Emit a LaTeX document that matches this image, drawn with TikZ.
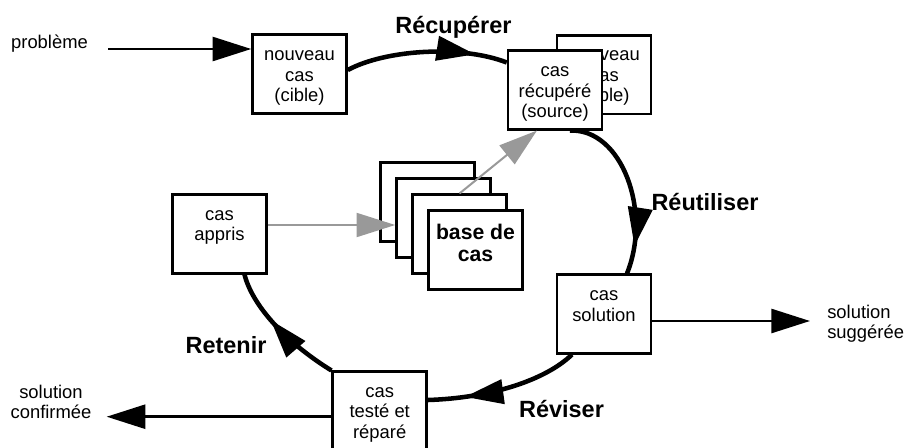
\documentclass[tikz,border=0pt]{standalone}
\usepackage{fontspec}
\setmainfont{Liberation Sans}
\usetikzlibrary{arrows.meta,decorations.markings,calc,backgrounds}
\definecolor{arrowgray}{gray}{0.6}
\tikzset{
  bigtip/.tip={Triangle[length=29pt,width=18pt]},
  box/.style={draw,fill=white,line width=1.9pt,minimum width=70.5pt,minimum height=58.9pt,inner sep=0pt},
  txt/.style={font=\fontsize{13.8}{15.3}\selectfont,align=center,inner sep=0pt,
    execute at begin node=\strut,execute at end node=\strut},
  basetxt/.style={txt,font=\fontsize{15.9}{16.3}\selectfont\bfseries},
  lbl/.style={font=\fontsize{17.6}{20}\selectfont\bfseries,inner sep=0pt,anchor=base},
  straight/.style={line width=2pt,-{bigtip}},
  grayarrow/.style={line width=1.5pt,draw=arrowgray,-{Triangle[length=29pt,width=18pt,fill=arrowgray]}},
  cyclearc/.style={line width=3.4pt,postaction={decorate},
    decoration={markings,mark=at position #1 with {\arrow{bigtip}}}}
}
\begin{document}
\begin{tikzpicture}[x=0.75pt,y=-0.75pt]
\useasboundingbox (0,0) rectangle (904,447);

% boxes of the cycle
\node[box] (ncb) at (604,74.5) {};
\node[txt] (ncbt) at (604.5,79.5) {nouveau\\cas\\(cible)};
\node[box] (rec) at (555,90) {};
\node[txt] (rect) at (555,95.5) {cas\\récupéré\\(source)};
\node[box] (nc) at (299.5,74) {};
\node[txt] (nct) at (299.5,79.5) {nouveau\\cas\\(cible)};
\node[box] (app) at (219.5,234) {};
\node[txt] (appt) at (219.5,228.7) {cas\\appris};
\node[box] (sol) at (604,314) {};
\node[txt] (solt) at (604,309.3) {cas\\solution};
\node[box] (tst) at (379.7,411) {};
\node[txt] (tstt) at (379.7,416) {cas\\testé et\\réparé};

% stacked case base
\node[box] (s1) at (427.7,202) {};
\node[box] (s2) at (443.5,218) {};
\node[box] (s3) at (459.5,234) {};
\node[box] (s4) at (475.3,250) {};
\node[basetxt] (s4t) at (475.5,246) {base de\\cas};

% the four phases of the cycle, behind the boxes
\begin{pgfonlayer}{background}
\draw[cyclearc=0.8] ($(nc.east)+(0,-4)$) .. controls +(37,-20) and +(-47,-18) .. ($(rec.north west)+(0,13)$);
\draw[cyclearc=0.84] ($(rec.south)+(15,0)$) .. controls +(52,-2) and +(25,-62) .. ($(sol.north)+(23,0)$);
\draw[cyclearc=0.76] ($(sol.south)+(-32,0)$) .. controls +(-27,26) and +(62,-2) .. ($(tst.east)+(0,-11)$);
\draw[cyclearc=0.6] (tst.north west) .. controls +(-47,-29) and +(7.5,30) .. ($(app.south)+(25,0)$);
\end{pgfonlayer}

% outer texts
\node[txt,anchor=base,execute at begin node=,execute at end node=] (prob) at (49.5,48.5) {problème};
\node[txt,anchor=west,align=left] (sug) at (827,325) {solution\\suggérée};
\node[txt] (conf) at (51,405) {solution\\confirmée};

% phase labels
\node[lbl] (l1) at (453.5,33.3) {Récupérer};
\node[lbl] (l2) at (705,210) {Réutiliser};
\node[lbl] (l3) at (561.5,417) {Réviser};
\node[lbl] (l4) at (226,353.3) {Retenir};

% straight arrows
\draw[straight] ($(prob.base east)+(20,0.5)$) -- ($(nc.west)+(0,-25)$);
\draw[straight] ($(sol.east)+(0,7)$) -- ($(sug.west)+(-17,-4)$);
\draw[straight] ($(tst.west)+(0,5.7)$) -- ($(conf.east)+(15,11.7)$);

% gray arrows to and from the case base
\draw[grayarrow] ($(app.east)+(0,-9)$) -- ($(s2.west)+(0,7)$);
\draw[grayarrow] (s3.north) -- ($(rec.south)+(-18,0)$);
\end{tikzpicture}
\end{document}
